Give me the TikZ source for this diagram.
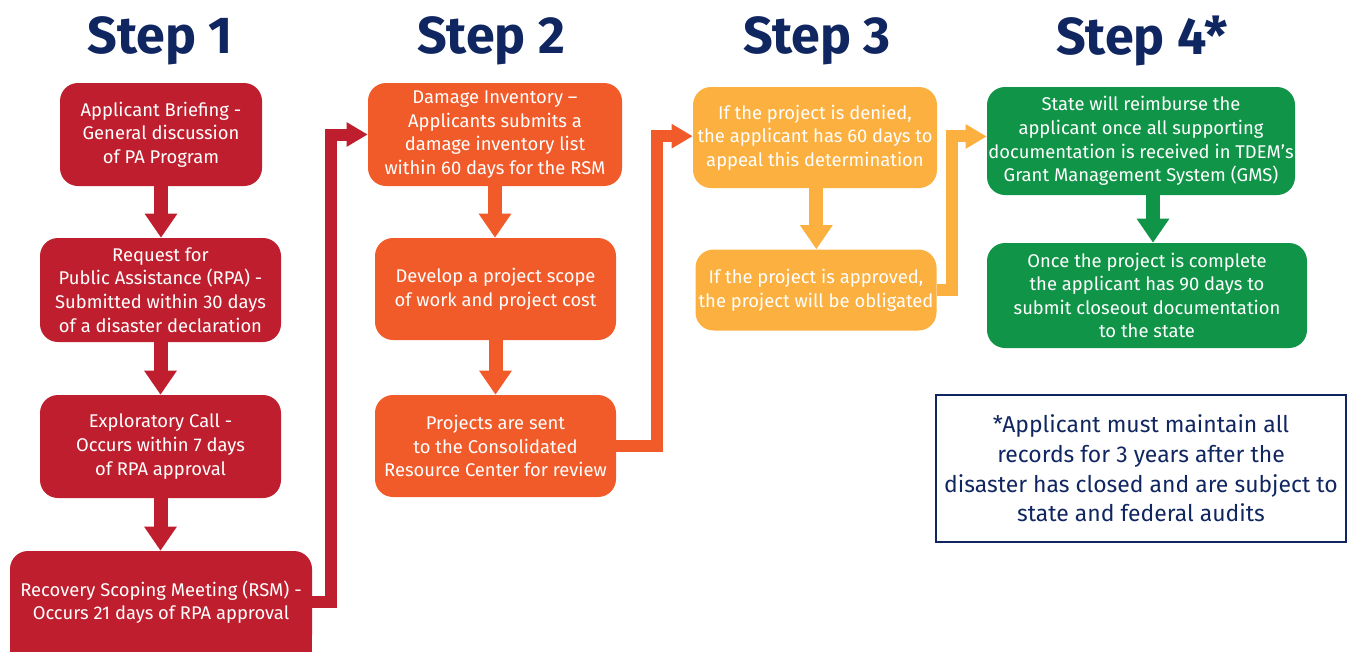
\documentclass[tikz,border=0pt]{standalone}
\usepackage{fontspec}
\setmainfont{Fira Sans}
\usetikzlibrary{arrows.meta}
\definecolor{cred}{RGB}{190,30,45}
\definecolor{corange}{RGB}{241,90,41}
\definecolor{cyellow}{RGB}{251,176,64}
\definecolor{cgreen}{RGB}{16,148,72}
\definecolor{cnavy}{RGB}{16,38,96}
\begin{document}
\begin{tikzpicture}[x=0.75pt,y=-0.75pt,
  stepbox/.style={rounded corners=13.5pt, inner sep=0pt, align=center, text=white,
    font=\fontsize{13.8}{17.7}\selectfont},
  wh/.style 2 args={minimum width=#1*0.75pt, minimum height=#2*0.75pt},
  steptitle/.style={text=cnavy, inner sep=0pt, font=\fontsize{39}{44}\selectfont\bfseries},
  downarr/.style={line width=10.5pt, -{Triangle[length=18pt,width=23.25pt]}},
  elbow/.style={line width=9pt, line join=miter, -{Triangle[length=15.75pt,width=17.25pt]}},
  notebox/.style={draw=cnavy, line width=1.2pt, text=cnavy, align=center, inner sep=0pt,
    font=\fontsize{17.2}{22.2}\selectfont}]
\useasboundingbox (0,0) rectangle (1350,651);
\clip (0,0) rectangle (1350,651);
% titles
\node[steptitle] (t1) at (160,41) {Step 1};
\node[steptitle] (t2) at (491,41) {Step 2};
\node[steptitle] (t3) at (817,41) {Step 3};
\node[steptitle] (t4) at (1142,41) {Step 4*};
% step 1
\node[stepbox, fill=cred, wh={202}{103}] (b1) at (161,134.5) {Applicant Briefing -\\General discussion\\of PA Program};
\node[stepbox, fill=cred, wh={241}{104}] (b2) at (160.5,290) {Request for\\Public Assistance (RPA) -\\Submitted within 30 days\\of a disaster declaration};
\node[stepbox, fill=cred, wh={241}{103}] (b3) at (160.5,446.5) {Exploratory Call -\\Occurs within 7 days\\of RPA approval};
\fill[cred] (10,630) rectangle (312,660);
\node[stepbox, fill=cred, wh={302}{102}] (b4) at (161,602) {Recovery Scoping Meeting (RSM) -\\Occurs 21 days of RPA approval};
% step 2
\node[stepbox, fill=corange, wh={254}{103}] (b5) at (495,134.5) {Damage Inventory --\\Applicants submits a\\damage inventory list\\within 60 days for the RSM};
\node[stepbox, fill=corange, wh={241}{102}] (b6) at (495.5,289) {Develop a project scope\\of work and project cost};
\node[stepbox, fill=corange, wh={241}{102}] (b7) at (495.5,446) {Projects are sent\\to the Consolidated\\Resource Center for review};
% step 3
\node[stepbox, fill=cyellow, wh={244}{101}] (b8) at (815,137.5) {If the project is denied,\\the applicant has 60 days to\\appeal this determination};
\node[stepbox, fill=cyellow, wh={241}{81}] (b9) at (816,290) {If the project is approved,\\the project will be obligated};
% step 4
\node[stepbox, fill=cgreen, wh={308}{108}] (b10) at (1141,141) {State will reimburse the\\applicant once all supporting\\documentation is received in TDEM’s\\Grant Management System (GMS)};
\node[stepbox, fill=cgreen, wh={320}{105}] (b11) at (1147,295.5) {Once the project is complete\\the applicant has 90 days to\\submit closeout documentation\\to the state};
% note
\node[notebox, wh={410}{147}] (note) at (1141,468.5) {*Applicant must maintain all\\records for 3 years after the\\disaster has closed and are subject to\\state and federal audits};
% down arrows
\draw[downarr, cred] (b1.south) -- (b1.south |- b2.north);
\draw[downarr, cred] (b2.south) -- (b2.south |- b3.north);
\draw[downarr, cred] (b3.south) -- (b3.south |- b4.north);
\draw[downarr, corange] (b5.south) -- (b5.south |- b6.north);
\draw[downarr, corange] (b6.south) -- (b6.south |- b7.north);
\draw[downarr, cyellow] ([xshift=1pt]b8.south) -- ([xshift=1pt]b8.south |- b9.north);
\draw[downarr, cgreen] ([xshift=9pt]b10.south) -- ([xshift=9pt]b10.south |- b11.north);
% elbow connectors
\draw[elbow, cred] (b4.east) -- ++(19,0) |- (b5.west);
\draw[elbow, corange] (b7.east) -- ++(41,0) |- ([yshift=1pt]b8.west);
\draw[elbow, cyellow] (b9.east) -- ++(15,0) |- ([yshift=3.4pt]b10.west);
\end{tikzpicture}
\end{document}
